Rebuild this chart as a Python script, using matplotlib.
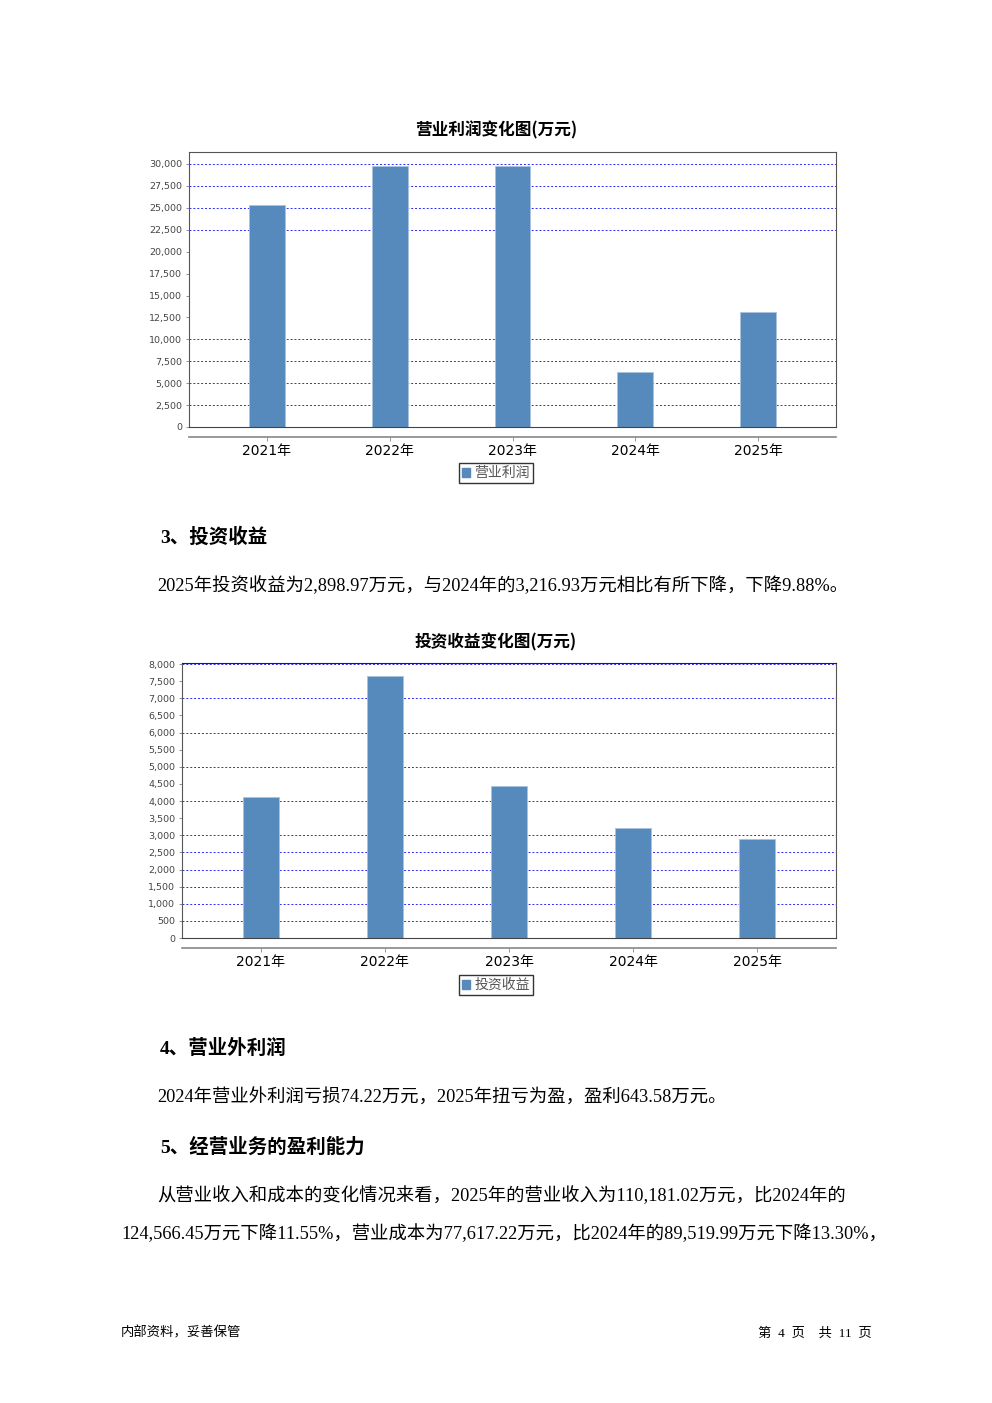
import matplotlib
matplotlib.use('Agg')
from matplotlib import pyplot as plt
from matplotlib.patches import Patch
from matplotlib.ticker import FuncFormatter

plt.rcParams['font.family'] = ['DejaVu Sans', 'Noto Sans CJK SC']

years = ['2021年', '2022年', '2023年', '2024年', '2025年']

# chart 1: operating profit (10k yuan)
profit_values = [25320, 29770, 29770, 6250, 13100]
profit_ticks = [0, 2500, 5000, 7500, 10000, 12500, 15000, 17500, 20000, 22500, 25000, 27500, 30000]
profit_grid = [2500, 5000, 7500, 10000, 22500, 25000, 27500, 30000]

# chart 2: investment income (10k yuan)
invest_values = [4130, 7650, 4430, 3216.93, 2898.97]
invest_ticks = list(range(0, 8001, 500))
invest_grid = [500, 1000, 1500, 2000, 2500, 3000, 4000, 5000, 6000, 7000, 8000]

W, H = 992, 1403
BAR = '#5689bc'
GRID = '#2a2aff'
CJK = ['Noto Sans CJK SC', 'DejaVu Sans']
BODY = ['Liberation Serif', 'Noto Sans CJK SC']

fig = plt.figure(figsize=(W / 100, H / 100), dpi=100)


def px(x, y):
    return x / W, 1 - y / H


def bar_chart(left, right, top, zero, grid_top_px, values, ticks, grid, ymax_val, title, title_y,
              legend_label, legend_y, top_color):
    x0, y0 = px(left, zero)
    x1, y1 = px(right, top)
    ax = fig.add_axes([x0, y0, x1 - x0, y1 - y0])
    pos = list(range(len(years)))
    ax.bar(pos, values, width=0.29, color=BAR, edgecolor='#a9c4e0', linewidth=0.6, zorder=3)
    ymax = ymax_val * (zero - top) / (zero - grid_top_px)
    ax.set_ylim(0, ymax)
    ax.set_xlim(-0.635, len(years) - 1 + 0.635)
    ax.hlines(grid, -0.635, len(years) - 1 + 0.635, colors=GRID, linestyles=(0, (2, 2)),
              linewidth=0.7, zorder=1)
    ax.set_yticks(ticks)
    ax.yaxis.set_major_formatter(FuncFormatter(lambda v, p: f'{int(v):,}'))
    ax.tick_params(axis='y', labelsize=6.8, labelcolor='#444444', length=2, width=0.5,
                   color='#666666', pad=3)
    ax.set_xticks(pos)
    ax.set_xticklabels(years, fontsize=7.5, color='#333333', family=CJK)
    ax.tick_params(axis='x', length=3, width=0.6, color='#888888', pad=2)
    for s in ['left', 'right', 'top']:
        ax.spines[s].set_color('#555555')
        ax.spines[s].set_linewidth(0.8)
    ax.spines['top'].set_color(top_color)
    ax.spines['bottom'].set_position(('outward', 7))
    ax.spines['bottom'].set_color('#888888')
    ax.spines['bottom'].set_linewidth(1.2)
    ax.axhline(0, color='#444444', linewidth=0.8, clip_on=False, zorder=4)
    tx, ty = px(496, title_y)
    fig.text(tx, ty, title, ha='center', va='center', fontsize=12, fontweight='bold',
             family=CJK)
    lx, ly = px(496, legend_y)
    fig.legend(handles=[Patch(facecolor=BAR, edgecolor=BAR)], labels=[legend_label],
               loc='center', bbox_to_anchor=(lx, ly), frameon=True, fancybox=False,
               edgecolor='black', handlelength=0.6, handleheight=0.6, handletextpad=0.3,
               borderpad=0.25, borderaxespad=0, labelcolor='#555555',
               prop={'family': CJK, 'size': 10}).get_frame().set_linewidth(1.0)
    return ax


bar_chart(189, 836, 152, 427, 164, profit_values, profit_ticks, profit_grid, 30000,
          '营业利润变化图(万元)', 130, '营业利润', 473, '#555555')
bar_chart(182, 836, 663, 938, 664, invest_values, invest_ticks, invest_grid, 8000,
          '投资收益变化图(万元)', 642, '投资收益', 985, '#1a1a66')


# body text
def txt(x, y, s, size=13.2, bold=False, ha='left'):
    fx, fy = px(x, y)
    fig.text(fx, fy, s, ha=ha, va='center', fontsize=size, family=BODY,
             fontweight='bold' if bold else 'normal', color='black')


txt(160, 537, '3、投资收益', size=14, bold=True)
txt(157, 586, '2025年投资收益为2,898.97万元，与2024年的3,216.93万元相比有所下降，下降9.88%。')
txt(160, 1048, '4、营业外利润', size=14, bold=True)
txt(157, 1098, '2024年营业外利润亏损74.22万元，2025年扭亏为盈，盈利643.58万元。')
txt(160, 1147, '5、经营业务的盈利能力', size=14, bold=True)
txt(157, 1196, '从营业收入和成本的变化情况来看，2025年的营业收入为110,181.02万元，比2024年的')
txt(121, 1234, '124,566.45万元下降11.55%，营业成本为77,617.22万元，比2024年的89,519.99万元下降13.30%，')

# footer
txt(121, 1333, '内部资料，妥善保管', size=9.6)
txt(872, 1333, '第  4  页    共  11  页', size=9.6, ha='right')

fig.savefig('out.png', dpi=100)
